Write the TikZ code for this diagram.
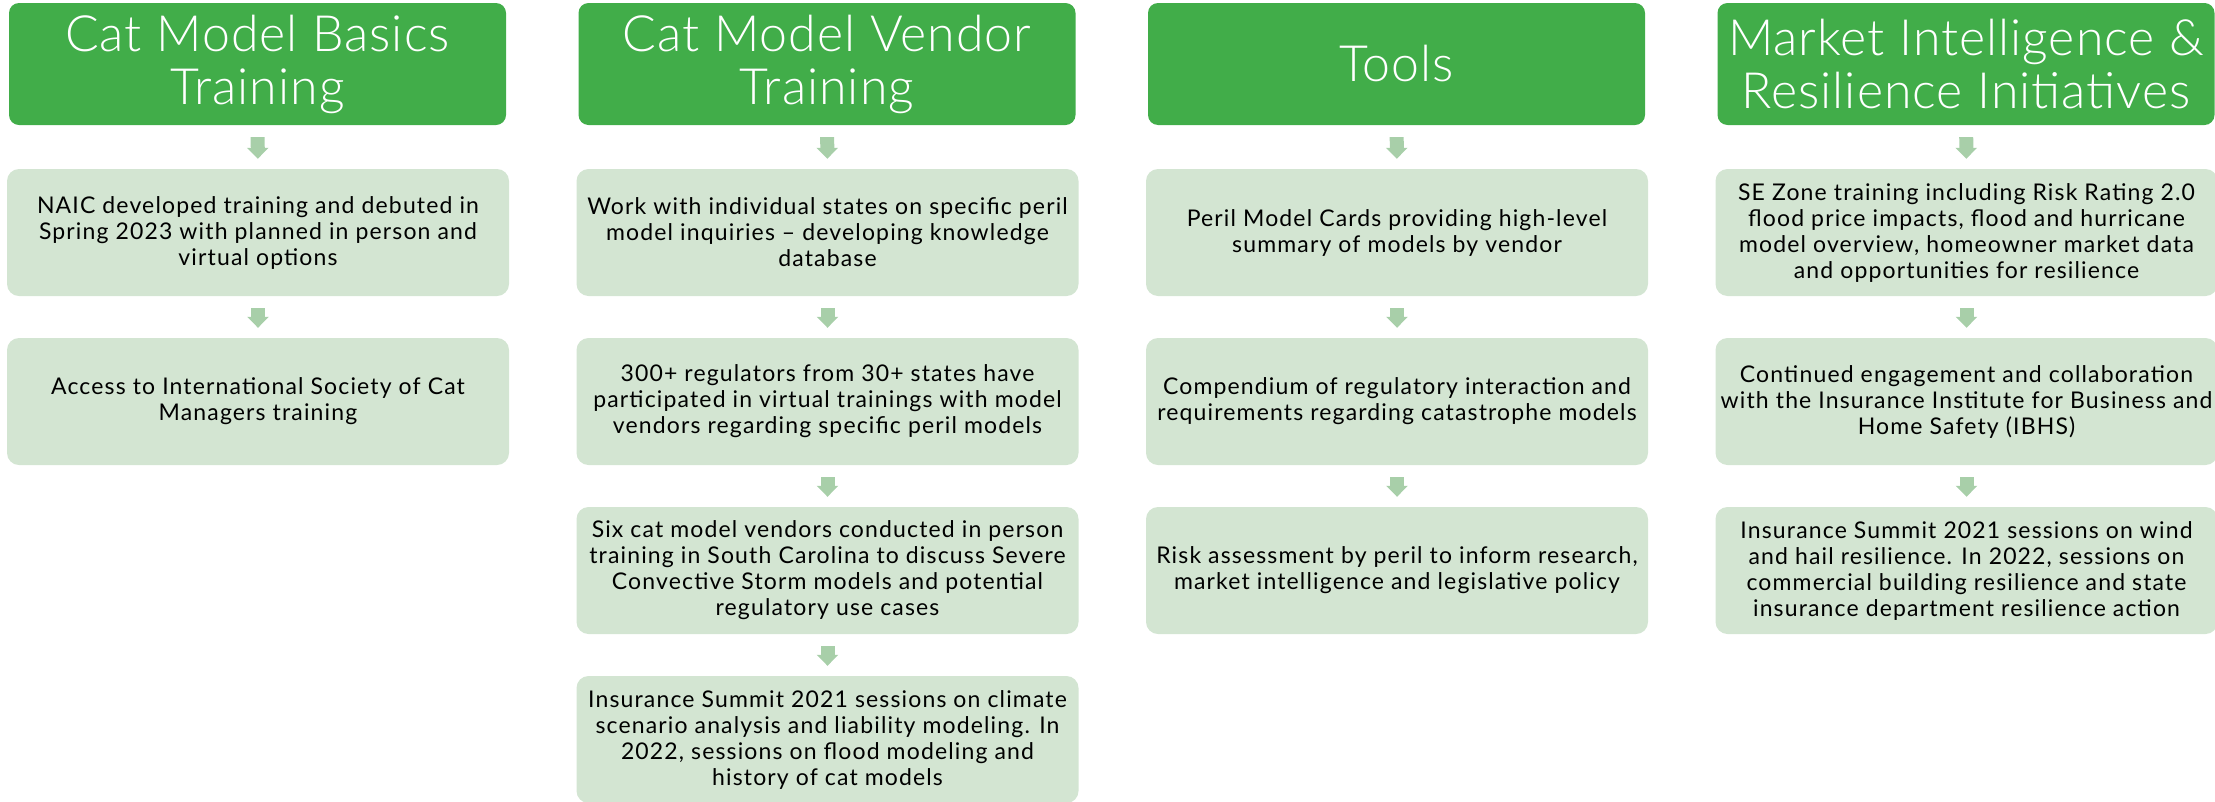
\documentclass[tikz,border=0pt]{standalone}
\usepackage{fontspec}
\setmainfont{Lato}[LetterSpace = 5]
\newfontfamily\headfont{Lato}[UprightFont = * Light, LetterSpace = 2]
\usetikzlibrary{arrows.meta}

\definecolor{headgreen}{HTML}{41AD49}
\definecolor{boxgreen}{HTML}{D3E5D2}
\definecolor{arrowgreen}{HTML}{A8CFA9}

\tikzset{
	colhead/.style = {fill = headgreen, rounded corners = 10pt, minimum width = 497pt, minimum height = 122pt, inner sep = 0pt, text = white, align = center, font = \headfont\fontsize{50}{53}\selectfont},
	colbox/.style = {fill = boxgreen, rounded corners = 12pt, minimum width = 502pt, minimum height = 127pt, inner sep = 0pt, align = center, font = \fontsize{23}{26}\selectfont},
	flow/.style = {draw = arrowgreen, line width = 14pt, -{Triangle[width = 21pt, length = 11pt]}, shorten < = 12pt, shorten > = 10pt}
}

\begin{document}
\begin{tikzpicture}[x = 1pt, y = 1pt]
			\useasboundingbox (0, 0) rectangle (2215, -801);
			\clip (0, 0) rectangle (2215, -801);
			\node[colhead] (h1) at (257.5, -64) {Cat Model Basics\\Training};
			\node[colbox] (b11) at (258, -232.5) {NAIC developed training and debuted in\\Spring 2023 with planned in person and\\virtual options};
			\node[colbox] (b12) at (258, -401.5) {Access to International Society of Cat\\Managers training};
			\node[colhead] (h2) at (827, -64) {Cat Model Vendor\\Training};
			\node[colbox] (b21) at (827.5, -232.5) {Work with individual states on specific peril\\model inquiries -- developing knowledge\\database};
			\node[colbox] (b22) at (827.5, -401.5) {300+ regulators from 30+ states have\\participated in virtual trainings with model\\vendors regarding specific peril models};
			\node[colbox] (b23) at (827.5, -570.5) {Six cat model vendors conducted in person\\training in South Carolina to discuss Severe\\Convective Storm models and potential\\regulatory use cases};
			\node[colbox] (b24) at (827.5, -739.5) {Insurance Summit 2021 sessions on climate\\scenario analysis and liability modeling. In\\2022, sessions on flood modeling and\\history of cat models};
			\node[colhead] (h3) at (1396.5, -64) {Tools};
			\node[colbox] (b31) at (1397, -232.5) {Peril Model Cards providing high-level\\summary of models by vendor};
			\node[colbox] (b32) at (1397, -401.5) {Compendium of regulatory interaction and\\requirements regarding catastrophe models};
			\node[colbox] (b33) at (1397, -570.5) {Risk assessment by peril to inform research,\\market intelligence and legislative policy};
			\node[colhead] (h4) at (1966, -64) {Market Intelligence \&\\Resilience Initiatives};
			\node[colbox] (b41) at (1966.5, -232.5) {SE Zone training including Risk Rating 2.0\\flood price impacts, flood and hurricane\\model overview, homeowner market data\\and opportunities for resilience};
			\node[colbox] (b42) at (1966.5, -401.5) {Continued engagement and collaboration\\with the Insurance Institute for Business and\\Home Safety (IBHS)};
			\node[colbox] (b43) at (1966.5, -570.5) {Insurance Summit 2021 sessions on wind\\and hail resilience. In 2022, sessions on\\commercial building resilience and state\\insurance department resilience action};
			\foreach \a/\b in {h1/b11, b11/b12, h2/b21, b21/b22, b22/b23, b23/b24, h3/b31, b31/b32, b32/b33, h4/b41, b41/b42, b42/b43}
				\draw[flow] (\a) -- (\b);
		\end{tikzpicture}
\end{document}
